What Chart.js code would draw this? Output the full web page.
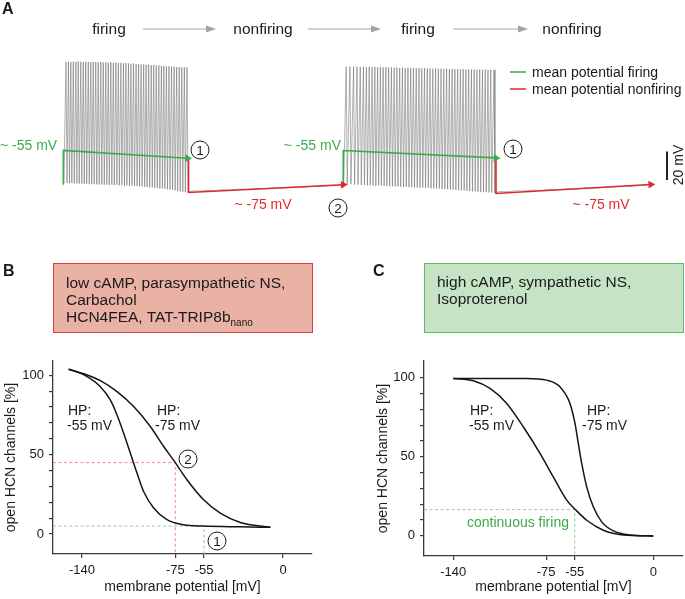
<!DOCTYPE html>
<html>
<head>
    <title>HCN firing figure</title>
    <script src="https://cdn.jsdelivr.net/npm/chart.js"></script>
    <style>
        body { margin: 0; background: white; }
        #fig { position: relative; width: 685px; height: 599px; overflow: hidden;
               font-family: "Liberation Sans", Arial, sans-serif; color: #1a1a1a; }
        #fig canvas, #fig svg, .t { position: absolute; }
        .t { white-space: nowrap; line-height: 1; font-size: 14px; }
        .c { transform: translate(-50%, -50%); }
        .l { transform: translate(0, -50%); }
        .r { transform: translate(-100%, -50%); }
        .big { font-size: 15.5px; }
        .letter { font-weight: bold; font-size: 16px; }
        .green { color: #3dab4a; }
        .red { color: #de2a2e; }
        .circ { position: absolute; width: 17px; height: 17px; border: 1px solid #1a1a1a; border-radius: 50%;
                transform: translate(-50%, -50%); font-size: 13.5px; line-height: 17px; text-align: center; background: white; }
        .box { position: absolute; box-sizing: border-box; }
        .box div { position: absolute; left: 12px; font-size: 15.5px; white-space: nowrap; line-height: 1; }
        sub { font-size: 10px; vertical-align: -4px; }
    </style>
</head>
<body>
<div id="fig">
    <canvas id="traceChart" width="620" height="200" style="left:49px;top:40px;width:620px;height:200px"></canvas>
    <canvas id="lowChart" width="330" height="259" style="left:0;top:340px;width:330px;height:259px"></canvas>
    <canvas id="highChart" width="313" height="259" style="left:372px;top:340px;width:313px;height:259px"></canvas>

    <svg width="685" height="599" style="left:0;top:0;pointer-events:none">
        <g stroke="#a3a3a3" stroke-width="1.2" fill="#a3a3a3">
            <line x1="143" y1="29" x2="208" y2="29"/><polygon points="216,29 206,25.5 206,32.5" stroke="none"/>
            <line x1="308" y1="29" x2="373" y2="29"/><polygon points="381,29 371,25.5 371,32.5" stroke="none"/>
            <line x1="453" y1="29" x2="520" y2="29"/><polygon points="528,29 518,25.5 518,32.5" stroke="none"/>
        </g>
        <line x1="510" y1="72" x2="526" y2="72" stroke="#3dab4a" stroke-width="1.5"/>
        <line x1="510" y1="89" x2="526" y2="89" stroke="#de2a2e" stroke-width="1.5"/>
        <line x1="667" y1="151.5" x2="667" y2="180" stroke="#222" stroke-width="2"/>
    </svg>

    <div class="t l letter" style="left:2px;top:9px">A</div>
    <div class="t c big" style="left:109px;top:29px">firing</div>
    <div class="t c big" style="left:263px;top:29px">nonfiring</div>
    <div class="t c big" style="left:418px;top:29px">firing</div>
    <div class="t c big" style="left:572px;top:29px">nonfiring</div>
    <div class="t l" style="left:532px;top:72px">mean potential firing</div>
    <div class="t l" style="left:532px;top:89px">mean potential nonfiring</div>
    <div class="t l green" style="left:0;top:145px">~ -55 mV</div>
    <div class="t r green" style="left:341px;top:145px">~ -55 mV</div>
    <div class="t c red" style="left:263px;top:204px">~ -75 mV</div>
    <div class="t c red" style="left:601px;top:204px">~ -75 mV</div>
    <div class="t c" style="left:678px;top:165px;transform:translate(-50%,-50%) rotate(-90deg)">20 mV</div>
    <div class="circ" style="left:200px;top:150px">1</div>
    <div class="circ" style="left:338px;top:208px">2</div>
    <div class="circ" style="left:513px;top:149px">1</div>

    <div class="t l letter" style="left:3px;top:271px">B</div>
    <div class="box" style="left:53px;top:263px;width:260px;height:70px;background:#eab2a5;border:1.5px solid #dc3a3c">
        <div style="top:11px">low cAMP, parasympathetic NS,</div>
        <div style="top:28px">Carbachol</div>
        <div style="top:45px">HCN4FEA, TAT-TRIP8b<sub>nano</sub></div>
    </div>
    <div class="t l letter" style="left:373px;top:271px">C</div>
    <div class="box" style="left:424px;top:263px;width:260px;height:70px;background:#c6e3c5;border:1.5px solid #5db95f">
        <div style="top:10px">high cAMP, sympathetic NS,</div>
        <div style="top:27px">Isoproterenol</div>
    </div>

    <div class="t l" style="left:68px;top:410px">HP:</div>
    <div class="t l" style="left:67px;top:425px">-55 mV</div>
    <div class="t l" style="left:157px;top:410px">HP:</div>
    <div class="t l" style="left:155px;top:425px">-75 mV</div>
    <div class="circ" style="left:188px;top:459px">2</div>
    <div class="circ" style="left:217px;top:541px">1</div>

    <div class="t l" style="left:470px;top:410px">HP:</div>
    <div class="t l" style="left:469px;top:425px">-55 mV</div>
    <div class="t l" style="left:587px;top:410px">HP:</div>
    <div class="t l" style="left:582px;top:425px">-75 mV</div>
    <div class="t l green" style="left:467px;top:522px">continuous firing</div>
</div>

<script>
    // panel A: spikes as [time s, peak mV, trough mV]
    const burst1 = [
        [0.27, 10.5, -79.0], [0.52, 10.8, -79.2], [0.76, 10.4, -79.1], [1.01, 10.7, -79.4], [1.27, 10.5, -79.3],
        [1.51, 10.9, -79.6], [1.77, 10.6, -79.5], [2.02, 10.4, -79.8], [2.27, 10.7, -79.6], [2.53, 10.5, -79.9],
        [2.78, 10.3, -80.0], [3.03, 10.6, -79.8], [3.29, 10.4, -80.1], [3.54, 10.2, -80.3], [3.80, 10.5, -80.0],
        [4.05, 10.1, -80.4], [4.31, 10.3, -80.2], [4.56, 10.0, -80.5], [4.82, 10.2, -80.3], [5.07, 9.8, -80.6],
        [5.33, 10.0, -80.4], [5.58, 9.7, -80.8], [5.84, 9.9, -80.6], [6.10, 9.5, -81.0], [6.35, 9.7, -80.8],
        [6.61, 9.4, -81.2], [6.86, 9.1, -81.0], [7.12, 9.3, -81.4], [7.38, 8.9, -81.2], [7.63, 9.0, -81.6],
        [7.89, 8.6, -81.5], [8.15, 8.8, -81.9], [8.40, 8.4, -82.0], [8.66, 8.5, -82.3], [8.92, 8.1, -82.2],
        [9.17, 8.2, -82.6], [9.43, 7.8, -82.8], [9.69, 7.9, -83.1], [9.95, 7.5, -83.0], [10.20, 7.6, -83.4],
        [10.46, 7.2, -83.7], [10.72, 7.3, -84.0], [10.98, 7.0, -84.2], [11.24, 6.9, -84.6], [11.50, 6.7, -84.9],
        [11.76, 6.8, -85.3], [12.02, 6.5, -85.6], [12.28, 6.6, -85.9], [12.55, 6.4, -86.2]
    ];
    const rest1 = [
        [12.75, -85.6], [13.2, -84.9], [13.8, -85.1], [14.5, -84.6], [15.3, -84.7], [16.1, -84.1], [17.0, -84.2],
        [17.9, -83.6], [18.8, -83.7], [19.7, -83.1], [20.6, -83.2], [21.5, -82.6], [22.4, -82.7], [23.3, -82.1],
        [24.2, -82.2], [25.1, -81.6], [26.0, -81.6], [26.9, -81.1], [27.8, -81.0], [28.45, -80.5]
    ];
    const burst2 = [
        [28.70, 7.0, -80.2], [29.08, 7.2, -80.0], [29.45, 6.9, -80.3], [29.80, 7.1, -80.2], [30.13, 6.8, -80.5],
        [30.45, 7.0, -80.4], [30.75, 6.7, -80.7], [31.04, 6.9, -80.6], [31.33, 6.6, -80.9], [31.61, 6.8, -81.0],
        [31.89, 6.5, -80.8], [32.17, 6.7, -81.1], [32.45, 6.4, -81.3], [32.73, 6.6, -81.2], [33.01, 6.3, -81.5],
        [33.29, 6.5, -81.4], [33.57, 6.2, -81.7], [33.85, 6.4, -81.6], [34.13, 6.1, -81.9], [34.41, 6.3, -82.0],
        [34.69, 6.0, -81.8], [34.97, 6.2, -82.2], [35.25, 5.9, -82.1], [35.53, 6.1, -82.4], [35.81, 5.8, -82.3],
        [36.09, 6.0, -82.6], [36.37, 5.7, -82.5], [36.65, 5.9, -82.8], [36.93, 5.6, -82.7], [37.21, 5.8, -83.0],
        [37.49, 5.5, -83.1], [37.77, 5.7, -83.3], [38.05, 5.4, -83.2], [38.33, 5.6, -83.5], [38.61, 5.3, -83.6],
        [38.89, 5.5, -83.8], [39.17, 5.2, -83.9], [39.45, 5.4, -84.1], [39.73, 5.1, -84.2], [40.01, 5.3, -84.4],
        [40.29, 5.0, -84.5], [40.57, 5.2, -84.7], [40.85, 4.9, -84.8], [41.13, 5.1, -85.0], [41.41, 4.8, -85.2],
        [41.69, 5.0, -85.3], [41.97, 4.7, -85.5], [42.25, 4.9, -85.6], [42.53, 4.6, -85.8], [42.81, 4.8, -85.9],
        [43.09, 4.5, -86.1], [43.37, 4.7, -86.2], [43.70, 4.6, -86.3]
    ];
    const rest2 = [
        [43.85, -86.0], [44.3, -85.4], [45.0, -85.6], [45.8, -84.9], [46.7, -85.0], [47.6, -84.4], [48.5, -84.5],
        [49.4, -83.8], [50.3, -83.9], [51.2, -83.3], [52.1, -83.4], [53.0, -82.7], [53.9, -82.8], [54.8, -82.2],
        [55.7, -82.1], [56.6, -81.5], [57.5, -81.6], [58.4, -80.9], [59.2, -80.7]
    ];
    // mean potential markers [time s, mV]
    const greenMean1 = [[0, -80.4], [0, -55], [12.6, -60.7]];
    const redMean1 = [[12.7, -61.4], [12.7, -86.1], [28.4, -80.4]];
    const greenMean2 = [[28.4, -80.4], [28.4, -55], [43.9, -60.5]];
    const redMean2 = [[43.9, -61.4], [43.9, -86.8], [59.6, -80.2]];

    // panel B (low cAMP): membrane potential mV vs open channels %
    const lowV55 = [-149.3, -138.9, -127.2, -120.3, -115.6, -111, -106.3, -101.7, -97.1, -90.1, -80.8, -69.2, -55.3, -30, -8.8];
    const lowOpen55 = [103.8, 100.4, 92.8, 84.5, 75, 63.5, 50.9, 38.4, 26.8, 16.4, 9, 5.8, 5, 4.5, 4.2];
    const lowV75 = [-149.3, -136.5, -127.2, -115.6, -104, -92.4, -83.1, -75, -66.9, -55.3, -43.7, -29.7, -8.8];
    const lowOpen75 = [103.8, 100.2, 96.6, 89.7, 80.3, 67.7, 55.1, 45, 34.2, 21.6, 13.2, 7.3, 4.2];
    const lowRedGuide = [[-160.2, 45], [-75, 45], [-75, -12.6]];
    const lowGreenGuide = [[-160.2, 5], [-55, 5], [-55, -12.6]];

    // panel C (high cAMP)
    const highV55 = [-140, -126, -114.3, -102.6, -91, -79.3, -70, -60.6, -54.6, -46.6, -35, -21, 0];
    const highOpen55 = [99.6, 98.1, 93.3, 83.8, 69, 52.2, 37.3, 22.6, 16.7, 9.9, 3.6, 0.6, 0];
    const highV75 = [-140, -88.6, -74.6, -65.3, -58.3, -54.8, -52.5, -50.1, -46.6, -42, -36.1, -28, -16.3, 0];
    const highOpen75 = [99.6, 99.6, 98.5, 94.3, 83.8, 71.1, 58.5, 45.8, 31, 18.4, 8.9, 3.2, 0.6, 0];
    const highGreenGuide = [[-160.5, 16.6], [-55, 16.6], [-55, -12.7]];

    const xTicks = [-140, -75, -55, 0];
    const yTicks = [0, 10, 20, 30, 40, 50, 60, 70, 80, 90, 100];
    const yLabels = [0, 50, 100];

    const FONT = '"Liberation Sans", Arial, sans-serif';
    const GREEN = '#3dab4a';
    const RED = '#de2a2e';

    function toXY(pairs) {
        return pairs.map(p => ({ x: p[0], y: p[1] }));
    }

    function buildTrace() {
        const pts = [{ x: 0.05, y: -79.3 }];
        const addBurst = burst => burst.forEach(s => {
            pts.push({ x: s[0], y: s[1] });
            pts.push({ x: s[0] + 0.1, y: s[2] });
        });
        addBurst(burst1);
        rest1.forEach(p => pts.push({ x: p[0], y: p[1] }));
        addBurst(burst2);
        rest2.forEach(p => pts.push({ x: p[0], y: p[1] }));
        return pts;
    }

    function arrowLine(pairs, color, angle) {
        return {
            data: toXY(pairs),
            showLine: true,
            borderColor: color,
            backgroundColor: color,
            borderWidth: 1.6,
            pointStyle: 'triangle',
            pointRadius: [0, 0, 4.5],
            pointRotation: [0, 0, angle],
            pointBorderWidth: 0,
            order: 0,
            clip: false
        };
    }

    function createTraceChart() {
        new Chart(document.getElementById('traceChart'), {
            type: 'scatter',
            data: {
                datasets: [
                    {
                        data: buildTrace(),
                        showLine: true,
                        borderColor: 'rgba(105,105,105,0.7)',
                        borderWidth: 0.75,
                        pointRadius: 0,
                        order: 10,
                        clip: false
                    },
                    arrowLine(greenMean1, GREEN, 93.6),
                    arrowLine(redMean1, RED, 87),
                    arrowLine(greenMean2, GREEN, 93.4),
                    arrowLine(redMean2, RED, 86.5)
                ]
            },
            options: {
                responsive: false,
                animation: false,
                events: [],
                plugins: { legend: { display: false }, tooltip: { enabled: false } },
                scales: {
                    x: { type: 'linear', min: -1, max: 61, display: false },
                    y: { min: -117.9, max: 23.4, display: false }
                }
            }
        });
    }

    function curveSet(xs, ys) {
        return {
            data: xs.map((v, i) => ({ x: v, y: ys[i] })),
            showLine: true,
            borderColor: '#151515',
            borderWidth: 1.5,
            pointRadius: 0,
            order: 0,
            cubicInterpolationMode: 'monotone'
        };
    }

    function guideSet(pairs, color) {
        return {
            data: toXY(pairs),
            showLine: true,
            borderColor: color,
            borderWidth: 1,
            borderDash: [3, 2.5],
            pointRadius: 0,
            order: 5
        };
    }

    function createActivationChart(id, datasets, xRange, yRange, axisWidth, axisHeight, padTop, padRight) {
        const axisColor = '#3a3a3a';
        new Chart(document.getElementById(id), {
            type: 'scatter',
            data: { datasets: datasets },
            options: {
                responsive: false,
                animation: false,
                events: [],
                layout: { padding: { top: padTop, right: padRight, left: 0, bottom: 0 } },
                plugins: { legend: { display: false }, tooltip: { enabled: false } },
                scales: {
                    x: {
                        type: 'linear',
                        min: xRange[0],
                        max: xRange[1],
                        afterBuildTicks: s => { s.ticks = xTicks.map(v => ({ value: v })); },
                        afterFit: s => { s.height = axisHeight; },
                        ticks: {
                            autoSkip: false, maxRotation: 0, padding: 5, color: '#1a1a1a',
                            font: { family: FONT, size: 13 },
                            callback: v => String(v)
                        },
                        grid: { drawOnChartArea: false, drawTicks: true, tickLength: 4, color: axisColor, lineWidth: 1.2 },
                        border: { display: true, color: axisColor, width: 1.3 },
                        title: {
                            display: true, text: 'membrane potential [mV]', color: '#1a1a1a',
                            font: { family: FONT, size: 14 }, padding: { top: 2, bottom: 3 }
                        }
                    },
                    y: {
                        min: yRange[0],
                        max: yRange[1],
                        afterBuildTicks: s => { s.ticks = yTicks.map(v => ({ value: v })); },
                        afterFit: s => { s.width = axisWidth; },
                        ticks: {
                            autoSkip: false, padding: 5, color: '#1a1a1a',
                            font: { family: FONT, size: 13 },
                            callback: v => yLabels.includes(v) ? String(v) : ''
                        },
                        grid: { drawOnChartArea: false, drawTicks: true, tickLength: 4, color: axisColor, lineWidth: 1.2 },
                        border: { display: true, color: axisColor, width: 1.3 },
                        title: {
                            display: true, text: 'open HCN channels [%]', color: '#1a1a1a',
                            font: { family: FONT, size: 14 }, padding: { top: 3, bottom: 2 }
                        }
                    }
                }
            }
        });
    }

    createTraceChart();

    createActivationChart('lowChart', [
        guideSet(lowRedGuide, '#ec8d8d'),
        guideSet(lowGreenGuide, '#8fd08f'),
        curveSet(lowV55, lowOpen55),
        curveSet(lowV75, lowOpen75)
    ], [-160.2, 20.2], [-12.6, 109], 53, 45, 21, 18);

    createActivationChart('highChart', [
        guideSet(highGreenGuide, '#8fd08f'),
        curveSet(highV55, highOpen55),
        curveSet(highV75, highOpen75)
    ], [-160.5, 20.8], [-12.7, 110.6], 52, 43, 21, 2);
</script>
</body>
</html>
